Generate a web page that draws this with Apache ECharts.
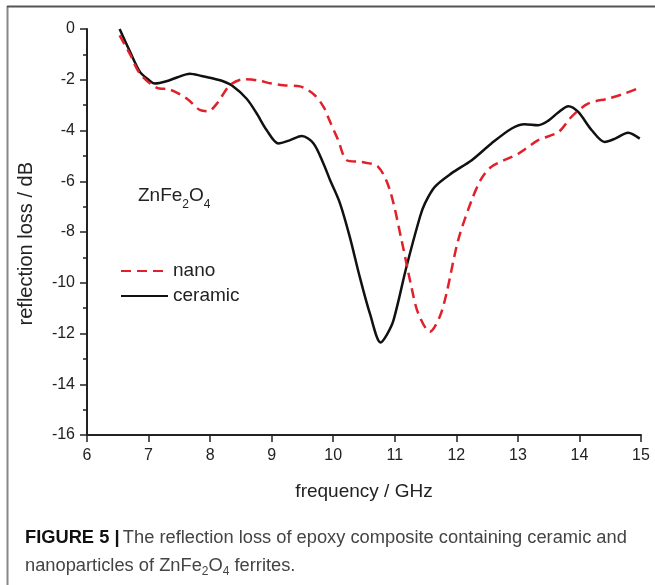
<!DOCTYPE html>
<html>
<head>
<meta charset="utf-8">
<script src="https://cdn.jsdelivr.net/npm/echarts@6/dist/echarts.min.js"></script>
<style>
html,body{margin:0;padding:0;background:#fff;}
#chart{width:655px;height:585px;}
</style>
</head>
<body>
<div id="chart"></div>
<script>
// ---- data ----
var ceramicFreq = [6.53, 6.7, 6.86, 7.0, 7.10, 7.29, 7.47, 7.67, 7.86, 8.05, 8.2, 8.35, 8.59, 8.75, 8.92, 9.11, 9.30, 9.49, 9.68, 9.84, 9.95, 10.11, 10.27, 10.43, 10.6, 10.77, 10.87, 10.98, 11.19, 11.41, 11.49, 11.65, 11.92, 12.25, 12.57, 12.90, 13.11, 13.33, 13.49, 13.65, 13.82, 13.98, 14.20, 14.41, 14.58, 14.79, 14.98];
var ceramicLoss = [0, -0.9, -1.69, -2.0, -2.15, -2.06, -1.9, -1.76, -1.85, -1.95, -2.05, -2.22, -2.74, -3.3, -3.99, -4.51, -4.38, -4.22, -4.51, -5.30, -5.96, -6.87, -8.2, -9.76, -11.25, -12.35, -12.05, -11.47, -9.37, -7.40, -6.87, -6.22, -5.69, -5.17, -4.51, -3.92, -3.75, -3.79, -3.62, -3.3, -3.04, -3.27, -3.99, -4.45, -4.32, -4.09, -4.32];
var nanoFreq = [6.53, 6.7, 6.86, 7.13, 7.35, 7.62, 7.84, 7.97, 8.11, 8.32, 8.54, 8.76, 9.0, 9.19, 9.46, 9.70, 9.85, 9.93, 10.08, 10.22, 10.46, 10.73, 10.92, 11.11, 11.27, 11.38, 11.57, 11.73, 11.84, 12.03, 12.25, 12.41, 12.57, 13.01, 13.33, 13.66, 13.87, 14.14, 14.47, 14.74, 14.98];
var nanoLoss = [-0.25, -1.0, -1.76, -2.31, -2.39, -2.74, -3.20, -3.24, -2.94, -2.22, -1.98, -2.02, -2.15, -2.22, -2.26, -2.61, -3.1, -3.55, -4.38, -5.17, -5.24, -5.43, -6.35, -8.32, -10.16, -11.2, -11.93, -11.34, -10.42, -8.32, -6.74, -5.89, -5.43, -4.91, -4.38, -4.06, -3.46, -2.94, -2.74, -2.54, -2.31];
var seriesNames = ['nano', 'ceramic'];
var xAxisTitle = 'frequency / GHz';
var yAxisTitle = 'reflection loss / dB';
var xMin = 6, xMax = 15, xStep = 1;
var yMin = -16, yMax = 0, yStep = 2;

function pairs(xs, ys) { return xs.map(function (x, i) { return [x, ys[i]]; }); }

var chart = echarts.init(document.getElementById('chart'), null, {renderer: 'canvas'});
var FONT = 'Liberation Sans, Arial, Helvetica, sans-serif';
chart.setOption({
  animation: false,
  backgroundColor: '#fff',
  grid: {left: 87, right: 14, top: 29, bottom: 150, containLabel: false},
  xAxis: {
    type: 'value', min: xMin, max: xMax, interval: xStep,
    name: xAxisTitle, nameLocation: 'middle', nameGap: 47,
    nameTextStyle: {fontFamily: FONT, fontSize: 19, color: '#222'},
    axisLine: {show: true, onZero: false, lineStyle: {color: '#222', width: 2}},
    axisTick: {show: true, inside: false, length: 7, lineStyle: {color: '#222', width: 1.5}},
    axisLabel: {fontFamily: FONT, fontSize: 16, color: '#222', margin: 13},
    splitLine: {show: false}
  },
  yAxis: {
    type: 'value', min: yMin, max: yMax, interval: yStep,
    axisLine: {show: true, onZero: false, lineStyle: {color: '#222', width: 2}},
    axisTick: {show: true, inside: false, length: 7, lineStyle: {color: '#222', width: 1.5}},
    minorTick: {show: true, splitNumber: 2, length: 4, lineStyle: {color: '#222', width: 1.5}},
    axisLabel: {fontFamily: FONT, fontSize: 16, color: '#222', margin: 12},
    splitLine: {show: false}
  },
  legend: {
    orient: 'vertical', left: 115, top: 256,
    itemWidth: 47, itemHeight: 14, itemGap: 5,
    data: seriesNames,
    itemStyle: {opacity: 0},
    textStyle: {fontFamily: FONT, fontSize: 19, color: '#222', lineHeight: 20}
  },
  graphic: [
    {type: 'line', shape: {x1: 7.5, y1: 6, x2: 7.5, y2: 585}, style: {stroke: '#888', lineWidth: 2}},
    {type: 'line', shape: {x1: 7, y1: 6.5, x2: 655, y2: 6.5}, style: {stroke: '#555', lineWidth: 2}},
    {type: 'text', left: 16, top: 162, rotation: Math.PI / 2,
      style: {text: yAxisTitle, font: '20px ' + FONT, fill: '#222'}},
    {type: 'text', left: 138, top: 186,
      style: {text: '{m|ZnFe}{s|2}{m|O}{s|4}', rich: {
        m: {fontFamily: FONT, fontSize: 19, fill: '#222', verticalAlign: 'bottom', lineHeight: 22},
        s: {fontFamily: FONT, fontSize: 12, fill: '#222', verticalAlign: 'bottom', lineHeight: 16, padding: [0, 0, -6, 0]}
      }}},
    {type: 'text', left: 25, top: 529,
      style: {text: '{b|FIGURE 5 |} {t|The reflection loss of epoxy composite containing ceramic and}', rich: {
        b: {fontFamily: FONT, fontSize: 18.3, fontWeight: 'bold', fill: '#111'},
        t: {fontFamily: FONT, fontSize: 18.3, fill: '#444'}
      }}},
    {type: 'text', left: 25, top: 557,
      style: {text: '{t|nanoparticles of ZnFe}{s|2}{t|O}{s|4}{t| ferrites.}', rich: {
        t: {fontFamily: FONT, fontSize: 18.3, fill: '#444', verticalAlign: 'bottom', lineHeight: 21},
        s: {fontFamily: FONT, fontSize: 12, fill: '#444', verticalAlign: 'bottom', lineHeight: 15, padding: [0, 0, -3, 0]}
      }}}
  ],
  series: [
    {name: seriesNames[0], type: 'line', data: pairs(nanoFreq, nanoLoss), smooth: 0.3, showSymbol: false, symbol: 'none',
      lineStyle: {color: '#e0202a', width: 2.5, type: [10, 6]}, itemStyle: {color: '#e0202a'}, z: 3},
    {name: seriesNames[1], type: 'line', data: pairs(ceramicFreq, ceramicLoss), smooth: 0.3, showSymbol: false, symbol: 'none',
      lineStyle: {color: '#111', width: 2.5}, itemStyle: {color: '#111'}, z: 2}
  ]
});
</script>
</body>
</html>
